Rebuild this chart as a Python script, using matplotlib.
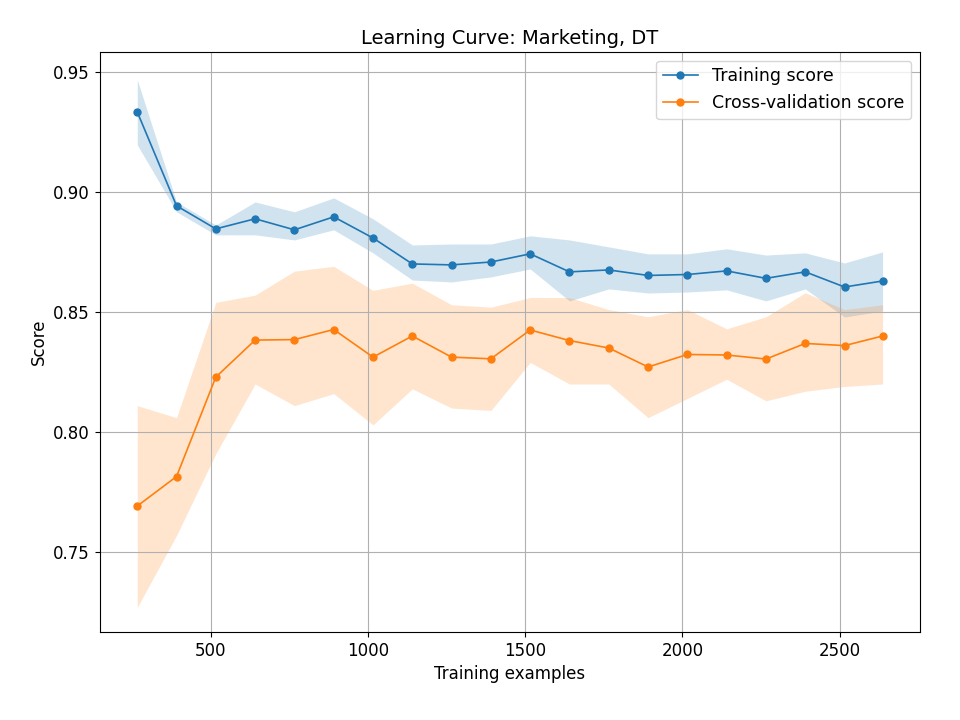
import matplotlib
matplotlib.use("Agg")
import matplotlib.pyplot as plt

# training set sizes
train_sizes = [266, 391, 516, 641, 766, 891, 1016, 1141, 1266, 1391,
               1516, 1641, 1766, 1891, 2016, 2141, 2266, 2391, 2516, 2637]

train_mean = [0.9333, 0.8942, 0.8846, 0.8888, 0.8842, 0.8896, 0.8808, 0.8700, 0.8696, 0.8708,
              0.8742, 0.8667, 0.8675, 0.8652, 0.8656, 0.8671, 0.8640, 0.8667, 0.8604, 0.8629]
train_upper = [0.9467, 0.8958, 0.8862, 0.8958, 0.8917, 0.8975, 0.8888, 0.8779, 0.8783, 0.8783,
               0.8817, 0.8800, 0.8771, 0.8742, 0.8742, 0.8763, 0.8737, 0.8746, 0.8704, 0.8750]
train_lower = [0.9196, 0.8917, 0.8821, 0.8821, 0.8800, 0.8842, 0.8746, 0.8633, 0.8625, 0.8646,
               0.8679, 0.8546, 0.8596, 0.8579, 0.8583, 0.8592, 0.8546, 0.8596, 0.8479, 0.8504]

cv_mean = [0.7692, 0.7815, 0.8229, 0.8383, 0.8385, 0.8427, 0.8312, 0.8400, 0.8312, 0.8305,
           0.8425, 0.8381, 0.8350, 0.8271, 0.8323, 0.8321, 0.8304, 0.8369, 0.8360, 0.8400]
cv_upper = [0.811, 0.806, 0.854, 0.857, 0.867, 0.869, 0.859, 0.862, 0.853, 0.852,
            0.856, 0.856, 0.851, 0.848, 0.851, 0.843, 0.848, 0.858, 0.851, 0.853]
cv_lower = [0.727, 0.757, 0.791, 0.820, 0.811, 0.816, 0.803, 0.818, 0.810, 0.809,
            0.829, 0.820, 0.820, 0.806, 0.814, 0.822, 0.813, 0.817, 0.819, 0.820]

fig, ax = plt.subplots(figsize=(9.6, 7.2), dpi=100)
ax.set_title("Learning Curve: Marketing, DT", fontsize=14)
ax.set_xlabel("Training examples", fontsize=12)
ax.set_ylabel("Score", fontsize=12)
ax.grid(True)

ax.fill_between(train_sizes, train_lower, train_upper, alpha=0.2, color="#1f77b4", linewidth=0)
ax.fill_between(train_sizes, cv_lower, cv_upper, alpha=0.2, color="#ff7f0e", linewidth=0)
ax.plot(train_sizes, train_mean, "o-", color="#1f77b4", label="Training score",
        markersize=5, linewidth=1.2)
ax.plot(train_sizes, cv_mean, "o-", color="#ff7f0e", label="Cross-validation score",
        markersize=5, linewidth=1.2)

ax.set_ylim(0.7167, 0.9583)
ax.set_xlim(147, 2755)
ax.tick_params(labelsize=12)
ax.legend(loc="best", fontsize=12.5)

fig.subplots_adjust(left=0.104, right=0.958, top=0.928, bottom=0.122)
fig.savefig("out.png")
